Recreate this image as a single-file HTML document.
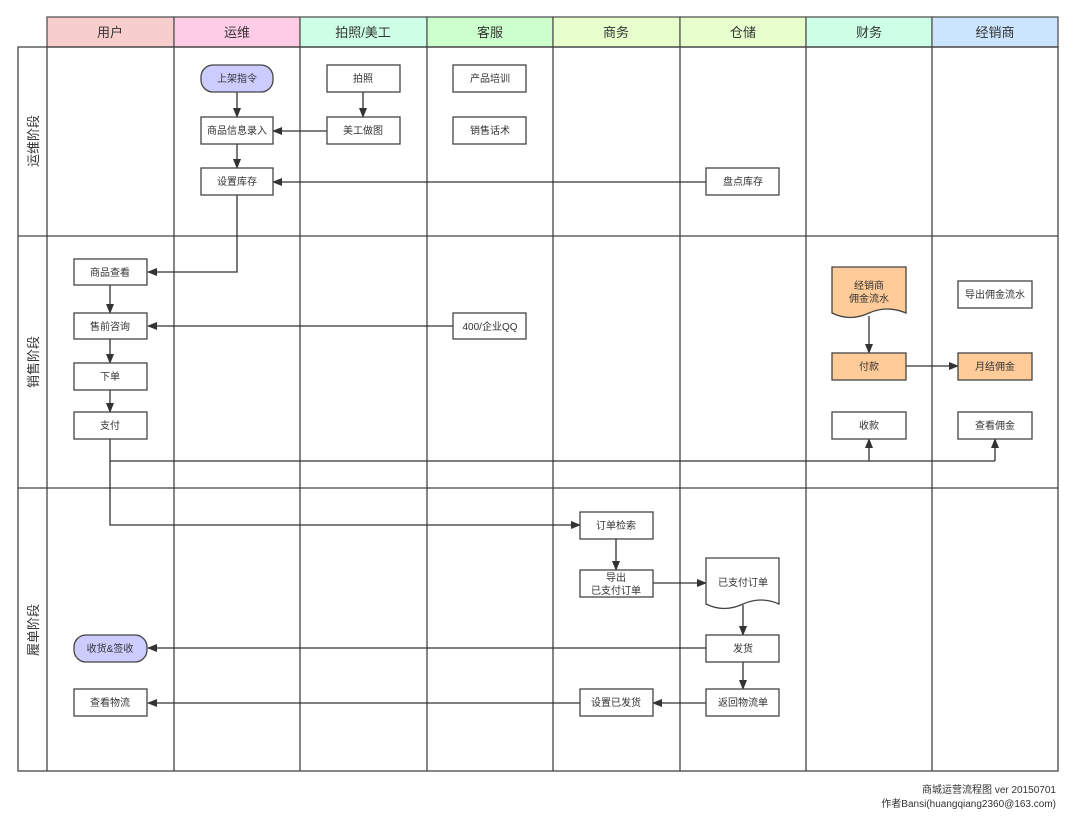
<!DOCTYPE html>
<html><head><meta charset="utf-8"><style>
html,body{margin:0;padding:0;background:#fff;}
svg text{font-family:"Liberation Sans","Noto Sans CJK SC",sans-serif;fill:#333;}
</style></head><body>
<svg width="1080" height="829" viewBox="0 0 1080 829" xmlns="http://www.w3.org/2000/svg">
<defs>
<marker id="a" markerWidth="10" markerHeight="8" refX="9" refY="4" orient="auto" markerUnits="userSpaceOnUse">
<path d="M0,0 L10,4 L0,8 Z" fill="#333"/></marker>
</defs>
<!-- headers -->
<g stroke="#555" stroke-width="1.3">
<rect x="47" y="17" width="127" height="30" fill="#f8cecc"/>
<rect x="174" y="17" width="126" height="30" fill="#ffcce6"/>
<rect x="300" y="17" width="127" height="30" fill="#ccffe6"/>
<rect x="427" y="17" width="126" height="30" fill="#ccffcc"/>
<rect x="553" y="17" width="127" height="30" fill="#e6ffcc"/>
<rect x="680" y="17" width="126" height="30" fill="#e6ffcc"/>
<rect x="806" y="17" width="126" height="30" fill="#ccffe6"/>
<rect x="932" y="17" width="126" height="30" fill="#cce5ff"/>
</g>
<g font-size="13" text-anchor="middle">
<text x="110" y="37">用户</text><text x="237" y="37">运维</text><text x="363" y="37">拍照/美工</text><text x="490" y="37">客服</text>
<text x="616" y="37">商务</text><text x="743" y="37">仓储</text><text x="869" y="37">财务</text><text x="995" y="37">经销商</text>
</g>
<!-- grid -->
<g stroke="#444" stroke-width="1.3" fill="none">
<rect x="18" y="47" width="1040" height="724"/>
<line x1="18" y1="236" x2="1058" y2="236"/>
<line x1="18" y1="488" x2="1058" y2="488"/>
<line x1="47" y1="47" x2="47" y2="771"/>
<line x1="174" y1="47" x2="174" y2="771"/>
<line x1="300" y1="47" x2="300" y2="771"/>
<line x1="427" y1="47" x2="427" y2="771"/>
<line x1="553" y1="47" x2="553" y2="771"/>
<line x1="680" y1="47" x2="680" y2="771"/>
<line x1="806" y1="47" x2="806" y2="771"/>
<line x1="932" y1="47" x2="932" y2="771"/>
</g>
<g font-size="13" text-anchor="middle">
<text transform="translate(38,141) rotate(-90)">运维阶段</text>
<text transform="translate(38,362) rotate(-90)">销售阶段</text>
<text transform="translate(38,630) rotate(-90)">履单阶段</text>
</g>
<!-- connectors -->
<g stroke="#333" stroke-width="1.3" fill="none">
<line x1="237" y1="92" x2="237" y2="117" marker-end="url(#a)"/>
<line x1="363" y1="92" x2="363" y2="117" marker-end="url(#a)"/>
<line x1="327" y1="131" x2="273" y2="131" marker-end="url(#a)"/>
<line x1="237" y1="144" x2="237" y2="168" marker-end="url(#a)"/>
<line x1="706" y1="182" x2="273" y2="182" marker-end="url(#a)"/>
<polyline points="237,195 237,272 148,272" marker-end="url(#a)"/>
<line x1="110" y1="285" x2="110" y2="313" marker-end="url(#a)"/>
<line x1="110" y1="339" x2="110" y2="363" marker-end="url(#a)"/>
<line x1="110" y1="390" x2="110" y2="412" marker-end="url(#a)"/>
<line x1="453" y1="326" x2="148" y2="326" marker-end="url(#a)"/>
<line x1="869" y1="316" x2="869" y2="353" marker-end="url(#a)"/>
<line x1="906" y1="366" x2="958" y2="366" marker-end="url(#a)"/>
<polyline points="110,439 110,461 995,461"/>
<line x1="869" y1="461" x2="869" y2="439" marker-end="url(#a)"/>
<line x1="995" y1="461" x2="995" y2="439" marker-end="url(#a)"/>
<polyline points="110,461 110,525 580,525" marker-end="url(#a)"/>
<line x1="616" y1="539" x2="616" y2="570" marker-end="url(#a)"/>
<line x1="653" y1="583" x2="706" y2="583" marker-end="url(#a)"/>
<line x1="743" y1="605" x2="743" y2="635" marker-end="url(#a)"/>
<line x1="706" y1="648" x2="148" y2="648" marker-end="url(#a)"/>
<line x1="743" y1="662" x2="743" y2="689" marker-end="url(#a)"/>
<line x1="706" y1="703" x2="653" y2="703" marker-end="url(#a)"/>
<line x1="580" y1="703" x2="148" y2="703" marker-end="url(#a)"/>
</g>
<!-- boxes -->
<g stroke="#444" stroke-width="1.3" fill="#fff">
<rect x="201" y="65" width="72" height="27" rx="12" fill="#ccccff"/>
<rect x="327" y="65" width="73" height="27"/>
<rect x="453" y="65" width="73" height="27"/>
<rect x="201" y="117" width="72" height="27"/>
<rect x="327" y="117" width="73" height="27"/>
<rect x="453" y="117" width="73" height="27"/>
<rect x="201" y="168" width="72" height="27"/>
<rect x="706" y="168" width="73" height="27"/>
<rect x="74" y="259" width="73" height="26"/>
<rect x="74" y="313" width="73" height="26"/>
<rect x="74" y="363" width="73" height="27"/>
<rect x="74" y="412" width="73" height="27"/>
<rect x="453" y="313" width="73" height="26"/>
<path d="M832,267 L906,267 L906,313 Q887,305 869,313 Q850,322 832,313 Z" fill="#ffcc99"/>
<rect x="832" y="353" width="74" height="27" fill="#ffcc99"/>
<rect x="832" y="412" width="74" height="27"/>
<rect x="958" y="281" width="74" height="27"/>
<rect x="958" y="353" width="74" height="27" fill="#ffcc99"/>
<rect x="958" y="412" width="74" height="27"/>
<rect x="580" y="512" width="73" height="27"/>
<rect x="580" y="570" width="73" height="27"/>
<path d="M706,558 L779,558 L779,604 Q761,596 743,604 Q724,613 706,604 Z"/>
<rect x="706" y="635" width="73" height="27"/>
<rect x="706" y="689" width="73" height="27"/>
<rect x="580" y="689" width="73" height="27"/>
<rect x="74" y="635" width="73" height="27" rx="12" fill="#ccccff"/>
<rect x="74" y="689" width="73" height="27"/>
</g>
<g font-size="10" text-anchor="middle">
<text x="237" y="82">上架指令</text>
<text x="363" y="82">拍照</text>
<text x="490" y="82">产品培训</text>
<text x="237" y="134">商品信息录入</text>
<text x="363" y="134">美工做图</text>
<text x="490" y="134">销售话术</text>
<text x="237" y="185">设置库存</text>
<text x="743" y="185">盘点库存</text>
<text x="110" y="276">商品查看</text>
<text x="110" y="330">售前咨询</text>
<text x="110" y="380">下单</text>
<text x="110" y="429">支付</text>
<text x="490" y="330">400/企业QQ</text>
<text x="869" y="289">经销商</text>
<text x="869" y="302">佣金流水</text>
<text x="869" y="370">付款</text>
<text x="869" y="429">收款</text>
<text x="995" y="298">导出佣金流水</text>
<text x="995" y="370">月结佣金</text>
<text x="995" y="429">查看佣金</text>
<text x="616" y="529">订单检索</text>
<text x="616" y="581">导出</text>
<text x="616" y="594">已支付订单</text>
<text x="743" y="586">已支付订单</text>
<text x="743" y="652">发货</text>
<text x="743" y="706">返回物流单</text>
<text x="616" y="706">设置已发货</text>
<text x="110" y="652">收货&amp;签收</text>
<text x="110" y="706">查看物流</text>
</g>
<g font-size="10" text-anchor="end">
<text x="1056" y="793">商城运营流程图 ver 20150701</text>
<text x="1056" y="807">作者Bansi(huangqiang2360@163.com)</text>
</g>
</svg>
</body></html>
